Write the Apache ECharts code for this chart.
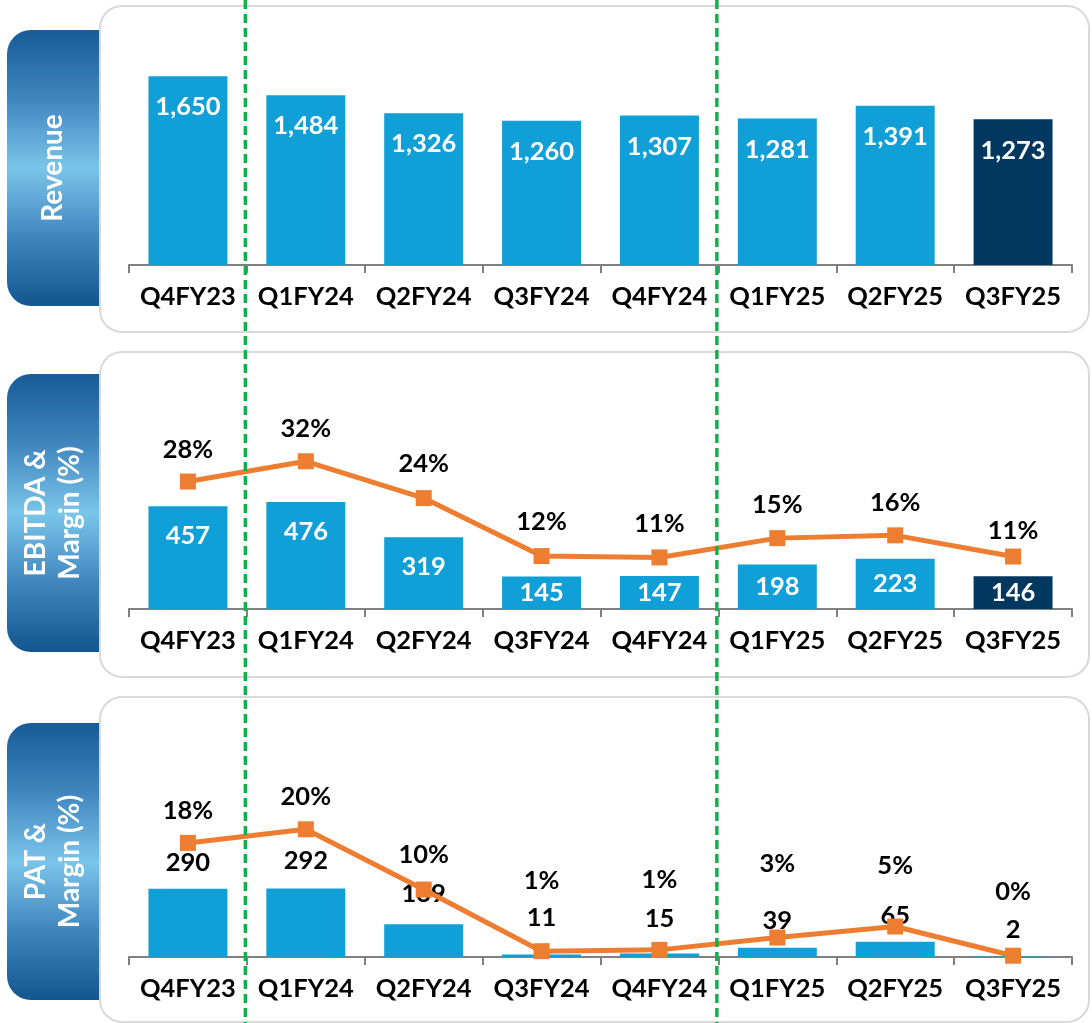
<!DOCTYPE html>
<html><head><meta charset="utf-8">
<script src="https://cdn.jsdelivr.net/npm/echarts/dist/echarts.min.js"></script>
<style>html,body{margin:0;padding:0;background:#fff}#c{width:1092px;height:1023px}</style>
</head><body><div id="c"></div>
<script>
// ---- data ----
const categories = ['Q4FY23','Q1FY24','Q2FY24','Q3FY24','Q4FY24','Q1FY25','Q2FY25','Q3FY25'];
const revenue = [1650,1484,1326,1260,1307,1281,1391,1273];
const ebitda = [457,476,319,145,147,198,223,146];
const ebitdaMargin = [27.7,32.1,24.1,11.5,11.2,15.4,16.0,11.4];
const pat = [290,292,139,11,15,39,65,2];
const patMargin = [17.6,19.7,10.4,0.9,1.1,3.0,4.7,0.2];
const panelTitles = ['Revenue','EBITDA &\nMargin (%)','PAT &\nMargin (%)'];
const fyStartIndex = [1,5]; // first quarter of a new fiscal year

// ---- layout / style ----
const W = 1092, H = 1023;
const gridLeft = 129, gridRightEdge = 1072;
const catW = (gridRightEdge - gridLeft) / categories.length;
const panels = [
  {axisY:265, h:206, barMax:1800, box:[6,326], tab:[30,276]},
  {axisY:609, h:202.5, barMax:900, mMax:44, box:[352,325], tab:[374,278]},
  {axisY:957, h:188, barMax:800, mMax:29, box:[697,325], tab:[723,277]}
];
const BAR = '#119fd8', BAR_LAST = '#02375f', LINE = '#ed7d31', AXIS = '#808080';
const FONT = 'Lato';
const FS = 25.5;
const ebitdaMarginLabelDist = [11,11,13,13,13,12,12,5];
const patBarLabelDist = [13,15,18,24,22,14,13,14];
const patMarginLabelDist = [11,12,14,49,49,53,40,43];

const grids = panels.map(p => ({left:gridLeft, right:W-gridRightEdge, top:p.axisY-p.h, height:p.h}));
const xAxes = panels.map((p,i) => ({
  type:'category', gridIndex:i, data:categories,
  axisLine:{lineStyle:{color:AXIS,width:2}},
  axisTick:{show:true,length:8,lineStyle:{color:AXIS,width:2}},
  axisLabel:{interval:0,margin:19,color:'#000',fontFamily:FONT,fontWeight:'bold',fontSize:FS}
}));
const yHidden = (gi,max) => ({type:'value',gridIndex:gi,min:0,max:max,show:false,splitLine:{show:false}});
const yAxes = [yHidden(0,panels[0].barMax), yHidden(1,panels[1].barMax), yHidden(1,panels[1].mMax),
               yHidden(2,panels[2].barMax), yHidden(2,panels[2].mMax)];

const barColor = i => i === categories.length-1 ? BAR_LAST : BAR;
const lblFont = {fontFamily:FONT,fontWeight:'bold',fontSize:FS};

const series = [
  {type:'bar', xAxisIndex:0, yAxisIndex:0, barCategoryGap:'33%',
   data: revenue.map((v,i)=>({value:v,itemStyle:{color:barColor(i)}})),
   label:Object.assign({show:true,position:'insideTop',distance:18,color:'#fff',
     formatter:p=>p.value.toLocaleString('en-US')},lblFont)},
  {type:'bar', xAxisIndex:1, yAxisIndex:1, barCategoryGap:'33%',
   data: ebitda.map((v,i)=>{
     const px = v/panels[1].barMax*panels[1].h;
     return {value:v,itemStyle:{color:barColor(i)},
       label:{position: px>60 ? 'insideTop':'inside', distance:17}};
   }),
   label:Object.assign({show:true,color:'#fff'},lblFont)},
  {type:'line', xAxisIndex:1, yAxisIndex:2, z:5, symbol:'rect', symbolSize:16,
   lineStyle:{color:LINE,width:5}, itemStyle:{color:LINE},
   data: ebitdaMargin.map((v,i)=>({value:v,label:{distance:ebitdaMarginLabelDist[i]}})),
   label:Object.assign({show:true,position:'top',color:'#000',
     formatter:p=>Math.round(p.value)+'%'},lblFont)},
  {type:'bar', xAxisIndex:2, yAxisIndex:3, barCategoryGap:'33%',
   data: pat.map((v,i)=>({value:v,itemStyle:{color:BAR},
     label:{distance:patBarLabelDist[i]}})),
   label:Object.assign({show:true,position:'top',color:'#000'},lblFont)},
  {type:'line', xAxisIndex:2, yAxisIndex:4, z:5, symbol:'rect', symbolSize:16,
   lineStyle:{color:LINE,width:5}, itemStyle:{color:LINE},
   data: patMargin.map((v,i)=>({value:v,label:{distance:patMarginLabelDist[i]}})),
   label:Object.assign({show:true,position:'top',color:'#000',
     formatter:p=>Math.round(p.value)+'%'},lblFont)}
];

const graphics = [];
panels.forEach((p,i)=>{
  graphics.push({type:'rect', z:-3, shape:{x:7,y:p.tab[0],width:110,height:p.tab[1],r:[24,0,0,24]},
    style:{fill:new echarts.graphic.LinearGradient(0,0,0,1,[
      {offset:0,color:'#175b97'},{offset:0.25,color:'#3f86bf'},{offset:0.5,color:'#7ac5ea'},
      {offset:0.75,color:'#3f86bf'},{offset:1,color:'#12568f'}])}});
  graphics.push({type:'text', z:-3, x:53, y:p.tab[0]+p.tab[1]/2, rotation:Math.PI/2,
    style:{text:panelTitles[i], fill:'#fff', fontFamily:FONT, fontWeight:'bold', fontSize:28,
      lineHeight:34, align:'center', verticalAlign:'middle'}});
  graphics.push({type:'rect', z:-2, shape:{x:100,y:p.box[0],width:989,height:p.box[1],r:22},
    style:{fill:'#fff',stroke:'#d9d9d9',lineWidth:2}});
});
fyStartIndex.forEach(k=>{
  const x = gridLeft + k*catW - 1.5;
  graphics.push({type:'line', z:100, shape:{x1:x,y1:0,x2:x,y2:H},
    style:{stroke:'#12b04b',lineWidth:3.5,lineDash:[9,5]}});
});

const chart = echarts.init(document.getElementById('c'), null, {renderer:'canvas'});
chart.setOption({
  backgroundColor:'#fff', animation:false,
  grid:grids, xAxis:xAxes, yAxis:yAxes, series:series, graphic:{elements:graphics}
});
</script></body></html>
